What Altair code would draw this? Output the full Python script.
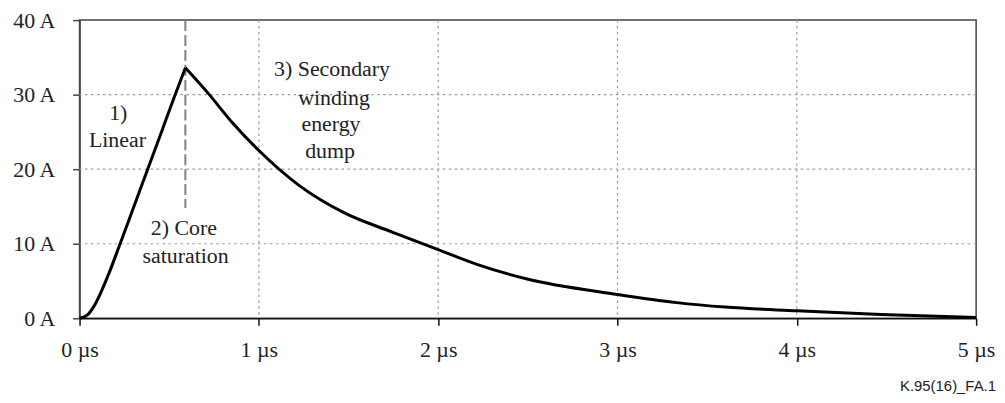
import altair as alt
import pandas as pd

# ---- data ----
time_us = [0, 0.046, 0.08, 0.16, 0.22, 0.30, 0.38, 0.46, 0.53, 0.59, 0.72, 0.85, 1.0,
           1.22, 1.48, 1.74, 2.0, 2.22, 2.49, 3.0, 3.33, 3.6, 4.0, 4.47, 5.0]
current_a = [0, 0.5, 1.6, 5.8, 9.6, 14.8, 20.0, 25.2, 29.8, 33.6, 30.1, 26.3, 22.5,
             17.9, 14.1, 11.6, 9.2, 7.2, 5.3, 3.2, 2.1, 1.5, 1.0, 0.5, 0.1]

x_ticks = [0, 1, 2, 3, 4, 5]
y_ticks = [0, 10, 20, 30, 40]
grid_x = [1, 2, 3, 4]
grid_y = [10, 20, 30]

sat_time = [0.59]
sat_top = [40]
sat_bottom = [14.8]

ann_text = ["1)", "Linear", "2) Core", "saturation",
            "3) Secondary", "winding", "energy", "dump"]
ann_t = [0.216, 0.211, 0.582, 0.591, 1.408, 1.419, 1.402, 1.397]
ann_a = [27.5, 23.9, 12.1, 8.4, 33.5, 29.6, 26.1, 22.5]

note = ["K.95(16)_FA.1"]

SERIF = "Liberation Serif"

xs = alt.Scale(domain=[0, 5], nice=False, zero=False)
ys = alt.Scale(domain=[0, 40], nice=False, zero=False)

xaxis = alt.Axis(values=x_ticks, labelExpr="datum.value + ' µs'", title=None, grid=False,
                 tickSize=7, labelPadding=14, labelFont=SERIF, labelFontSize=22,
                 labelColor="#222", domainColor="#111", tickColor="#111",
                 domainWidth=1.5, tickWidth=1.5, labelFlush=False, labelOverlap=False,
                 labelBound=False)
yaxis = alt.Axis(values=y_ticks, labelExpr="datum.value + ' A'", title=None, grid=False,
                 tickSize=7, labelPadding=18, labelFont=SERIF, labelFontSize=22,
                 labelColor="#222", domainColor="#444", tickColor="#444",
                 domainWidth=1.5, tickWidth=1.5, labelFlush=False, labelOverlap=False,
                 labelBound=False)


def X(field):
    return alt.X(field, type="quantitative", scale=xs, axis=xaxis)


def Y(field):
    return alt.Y(field, type="quantitative", scale=ys, axis=yaxis)


# split the curve at its peak so each side is smoothed on its own and the peak stays sharp
peak = current_a.index(max(current_a))
rows = []
for i, (t, a) in enumerate(zip(time_us, current_a)):
    if i <= peak:
        rows.append({"t": t, "a": a, "seg": "rise", "o": i})
    if i >= peak:
        rows.append({"t": t, "a": a, "seg": "fall", "o": i})
curve_df = pd.DataFrame(rows)

gx = alt.Chart(pd.DataFrame({"t": grid_x})).mark_rule(
    color="#9a9a9a", strokeDash=[2.5, 3.5], strokeWidth=1.2
).encode(x=X("t"))

gy = alt.Chart(pd.DataFrame({"a": grid_y})).mark_rule(
    color="#9a9a9a", strokeDash=[2.5, 3.5], strokeWidth=1.2
).encode(y=Y("a"))

sat = alt.Chart(pd.DataFrame({"t": sat_time, "a": sat_top, "a2": sat_bottom})).mark_rule(
    color="#808080", strokeDash=[11, 4], strokeWidth=2
).encode(x=X("t"), y=Y("a"), y2="a2:Q")

line = alt.Chart(curve_df).mark_line(
    color="#000", strokeWidth=3, strokeJoin="round", interpolate="monotone"
).encode(x=X("t"), y=Y("a"), detail="seg:N", order="o:Q")

ann = alt.Chart(pd.DataFrame({"t": ann_t, "a": ann_a, "txt": ann_text})).mark_text(
    font=SERIF, fontSize=22, color="#222", align="center", baseline="middle"
).encode(x=X("t"), y=Y("a"), text="txt:N")

note_mark = alt.Chart(pd.DataFrame({"txt": note})).mark_text(
    font="Liberation Sans", fontSize=15, color="#222", align="right", baseline="middle"
).encode(x=alt.value(922), y=alt.value(368), text="txt:N")

chart = alt.layer(gx, gy, sat, line, ann, note_mark).properties(
    width=902, height=300,
    padding={"left": 72, "top": 11, "right": 21, "bottom": 76},
    autosize=alt.AutoSizeParams(type="none"),
).configure_view(stroke="#444", strokeWidth=1.5)

chart.save("out.html", embed_options={"renderer": "svg", "actions": False})
